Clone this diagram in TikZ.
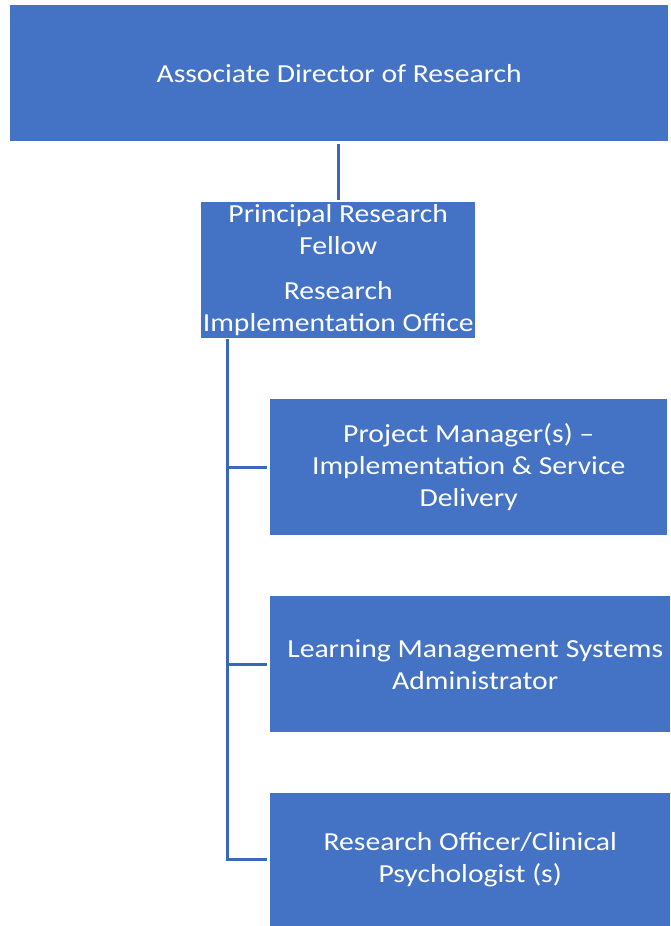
\documentclass[tikz,border=0pt]{standalone}
\usepackage{fontspec}
\setmainfont[FakeStretch=1.14]{Carlito}
\definecolor{boxblue}{HTML}{4472C4}
\definecolor{linkblue}{HTML}{3D67B6}
\begin{document}
\begin{tikzpicture}[x=1pt,y=-1pt,
  orgbox/.style={fill=boxblue, draw=none, text=white, align=center,
    anchor=north west, inner sep=0pt,
    font=\fontsize{26}{32}\selectfont},
  link/.style={draw=linkblue, line width=3pt}]
  \useasboundingbox (0,0) rectangle (670,926);

  % boxes of the chart
  \node[orgbox, minimum width=658, minimum height=136] (dir) at (10,5)
    {Associate Director of Research};
  \node[orgbox, minimum width=274, minimum height=136] (prf) at (201,202)
    {Principal Research\\Fellow\\[13pt]Research\\Implementation Office};
  \node[orgbox, minimum width=397, minimum height=136] (pm) at (270,399)
    {Project Manager(s) --\\Implementation \& Service\\Delivery};
  \node[orgbox, minimum width=400, minimum height=136] (lms) at (270,596)
    {\hspace*{10pt}Learning Management Systems\\\hspace*{10pt}Administrator};
  \node[orgbox, minimum width=400, minimum height=133] (ro) at (270,793)
    {Research Officer/Clinical\\Psychologist (s)};

  % connectors
  \coordinate (trunk) at (227,339);
  \draw[link] ([yshift=-3pt]prf.north |- dir.south) -- ([yshift=2pt]prf.north);
  \draw[link] (trunk) |- ([xshift=-3pt]ro.west);
  \draw[link] (trunk |- pm.west) -- ([xshift=-3pt]pm.west);
  \draw[link] (trunk |- lms.west) -- ([xshift=-3pt]lms.west);
\end{tikzpicture}
\end{document}
